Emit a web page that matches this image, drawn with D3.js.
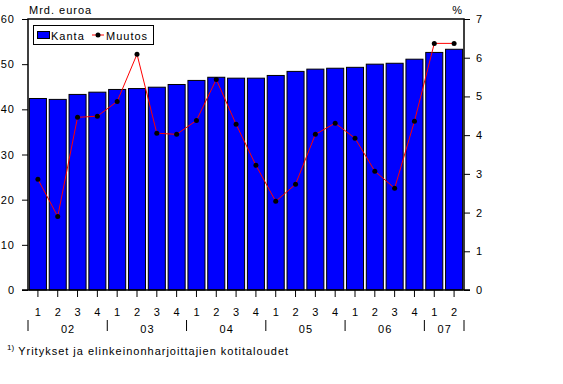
<!DOCTYPE html>
<html>
<head>
<meta charset="utf-8">
<script src="https://cdn.jsdelivr.net/npm/d3@7"></script>
<style>
  body { margin: 0; background: #fff; }
  svg text { font-family: "Liberation Sans", Arial, sans-serif; font-size: 11px; fill: #000; letter-spacing: 1px; }
</style>
</head>
<body>
<svg id="chart"></svg>
<script>
// data
const quarters = ["1","2","3","4","1","2","3","4","1","2","3","4","1","2","3","4","1","2","3","4","1","2"];
const years = ["02","03","04","05","06","07"];
const yearStarts = [0, 4, 8, 12, 16, 20, 22]; // bar index where each year starts (last = end)
const kanta = [42.4, 42.2, 43.3, 43.8, 44.4, 44.6, 44.9, 45.5, 46.4, 47.1, 46.9, 46.9,
               47.5, 48.4, 48.9, 49.1, 49.3, 50.0, 50.2, 51.1, 52.6, 53.3];
const muutos = [2.86, 1.90, 4.46, 4.49, 4.87, 6.09, 4.05, 4.02, 4.38, 5.44, 4.28, 3.22,
                2.29, 2.73, 4.02, 4.31, 3.92, 3.07, 2.63, 4.36, 6.37, 6.37];
const leftTicks = [0, 10, 20, 30, 40, 50, 60];
const rightTicks = [0, 1, 2, 3, 4, 5, 6, 7];

const width = 563;
const height = 384;
const plotL = 28, plotR = 464, plotT = 19, plotB = 290;

const svg = d3.select("#chart").attr("width", width).attr("height", height);

const idx = d3.range(kanta.length);
const xScale = d3.scaleBand().domain(idx).range([plotL, plotR]).paddingInner(0.14).paddingOuter(0.07);
const yLeft = d3.scaleLinear().domain([0, 60]).range([plotB, plotT]);
const yRight = d3.scaleLinear().domain([0, 7]).range([plotB, plotT]);
const step = xScale.step();
const center = (i) => xScale(i) + xScale.bandwidth() / 2;

// bars
svg.append("g")
  .selectAll("rect")
  .data(kanta)
  .enter()
  .append("rect")
  .attr("x", (d, i) => xScale(i))
  .attr("width", xScale.bandwidth())
  .attr("y", (d) => yLeft(d))
  .attr("height", (d) => plotB - yLeft(d))
  .attr("fill", "#0000ff")
  .attr("stroke", "#000")
  .attr("stroke-width", 1);

// frame (left, top, right)
svg.append("path")
  .attr("d", `M${plotL},${plotB}V${plotT}H${plotR}V${plotB}`)
  .attr("fill", "none")
  .attr("stroke", "#000")
  .attr("stroke-width", 1.5);

// left axis
const leftAxis = d3.axisLeft(yLeft).tickValues(leftTicks).tickSize(6).tickPadding(7);
const gl = svg.append("g").attr("transform", `translate(${plotL},0)`).call(leftAxis);
gl.select(".domain").remove();
gl.selectAll("line").attr("stroke", "#000");
gl.selectAll("text").style("font-family", "Liberation Sans, Arial").style("font-size", "11px");

// right axis
const rightAxis = d3.axisRight(yRight).tickValues(rightTicks).tickFormat(d3.format("d")).tickSize(6).tickPadding(6);
const gr = svg.append("g").attr("transform", `translate(${plotR},0)`).call(rightAxis);
gr.select(".domain").remove();
gr.selectAll("line").attr("stroke", "#000");
gr.selectAll("text").style("font-family", "Liberation Sans, Arial").style("font-size", "11px");

// x axis line
svg.append("line")
  .attr("x1", plotL - 6).attr("x2", plotR + 6)
  .attr("y1", plotB).attr("y2", plotB)
  .attr("stroke", "#000").attr("stroke-width", 1.5);

// quarter ticks and labels
const gx = svg.append("g");
gx.selectAll("line")
  .data(quarters)
  .enter()
  .append("line")
  .attr("x1", (d, i) => center(i)).attr("x2", (d, i) => center(i))
  .attr("y1", plotB).attr("y2", plotB + 7)
  .attr("stroke", "#000");
gx.selectAll("text")
  .data(quarters)
  .enter()
  .append("text")
  .attr("x", (d, i) => center(i) + 0.5)
  .attr("y", 316)
  .attr("text-anchor", "middle")
  .text((d) => d);

// year separators and labels
svg.append("g").selectAll("line")
  .data(yearStarts)
  .enter()
  .append("line")
  .attr("x1", (d) => plotL + step * d).attr("x2", (d) => plotL + step * d)
  .attr("y1", 320).attr("y2", 331)
  .attr("stroke", "#000");
svg.append("g").selectAll("text")
  .data(years)
  .enter()
  .append("text")
  .attr("x", (d, i) => plotL + step * (yearStarts[i] + yearStarts[i + 1]) / 2 + 0.5)
  .attr("y", 333)
  .attr("text-anchor", "middle")
  .text((d) => d);

// change line
const line = d3.line().x((d, i) => center(i)).y((d) => yRight(d));
svg.append("path")
  .datum(muutos)
  .attr("d", line)
  .attr("fill", "none")
  .attr("stroke", "#ff0000")
  .attr("stroke-width", 1);
svg.append("g").selectAll("circle")
  .data(muutos)
  .enter()
  .append("circle")
  .attr("cx", (d, i) => center(i))
  .attr("cy", (d) => yRight(d))
  .attr("r", 2.5)
  .attr("fill", "#000");

// axis titles
svg.append("text").attr("x", 29).attr("y", 14).text("Mrd. euroa");
svg.append("text").attr("x", 463).attr("y", 14).attr("text-anchor", "end").text("%");

// legend
const lg = svg.append("g");
lg.append("rect").attr("x", 33.5).attr("y", 25.5).attr("width", 120).attr("height", 19)
  .attr("fill", "#fff").attr("stroke", "#000");
lg.append("rect").attr("x", 37.5).attr("y", 31.5).attr("width", 12).attr("height", 7)
  .attr("fill", "#0000ff").attr("stroke", "#000");
lg.append("text").attr("x", 51).attr("y", 39.5).text("Kanta");
lg.append("line").attr("x1", 92).attr("x2", 104).attr("y1", 35).attr("y2", 35)
  .attr("stroke", "#ff0000");
lg.append("circle").attr("cx", 98).attr("cy", 35).attr("r", 2.5).attr("fill", "#000");
lg.append("text").attr("x", 106).attr("y", 39.5).text("Muutos");

// footnote
const fn = svg.append("text").attr("x", 7).attr("y", 355);
fn.append("tspan").attr("font-size", "8px").attr("letter-spacing", "0px").attr("dy", -5).text("1)");
fn.append("tspan").attr("dx", 4).attr("dy", 5).text("Yritykset ja elinkeinonharjoittajien kotitaloudet");
</script>
</body>
</html>
